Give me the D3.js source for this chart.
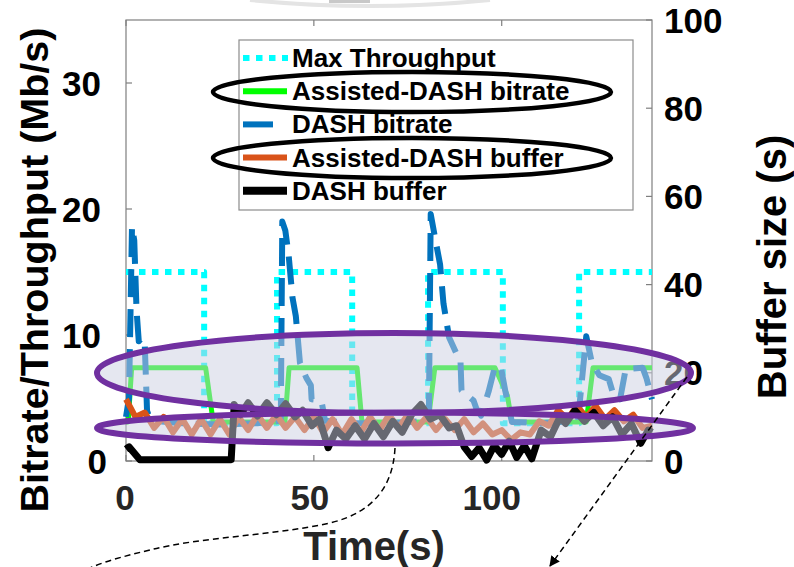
<!DOCTYPE html>
<html><head><meta charset="utf-8">
<script src="https://cdn.jsdelivr.net/npm/d3@7/dist/d3.min.js"></script>
<style>body{margin:0;background:#fff}svg{display:block}text{font-family:"Liberation Sans",Arial,sans-serif;font-weight:bold}</style>
</head><body>
<svg id="c" width="794" height="567"></svg>
<script>
// ---------- data ----------
const xTicks = [0, 50, 100];
const leftTicks = [0, 10, 20, 30];
const rightTicks = [0, 20, 40, 60, 80, 100];
const legendLabels = ["Max Throughput", "Assisted-DASH bitrate", "DASH bitrate", "Assisted-DASH buffer", "DASH buffer"];

// Max throughput (Mb/s), step after
const tpTime = [0, 20.8, 40.2, 60.2, 80.4, 100.3, 120.6, 140];
const tpVal  = [15, 3, 15, 3, 15, 3, 15, 15];

// Assisted-DASH bitrate (Mb/s)
const adbTime = [0, 0.6, 1.5, 21.2, 23.2, 42.3, 43.4, 61.5, 62.8, 80.4, 82.2, 98.2, 101.5, 102.7, 122.5, 124.3, 140];
const adbVal  = [3.1, 3.1, 7.4, 7.4, 3.1, 3.1, 7.4, 7.4, 3.1, 3.1, 7.4, 7.4, 5.2, 3.1, 3.1, 7.4, 7.4];

// DASH bitrate (Mb/s)
const dbTime = [0, 0.8, 1.6, 2.2, 2.8, 3.4, 4.2, 5.0, 5.6, 6.5, 15, 25, 35, 41.2, 41.6, 42.4, 43.3, 44.3, 45.2, 46.3, 48, 49.2, 49.4, 52, 53, 60, 70, 80.6, 81.1, 82.2, 83.6, 84.5, 86, 88, 89, 89.3, 92.5, 93.2, 94.5, 96.5, 98.2, 99.8, 101, 102.7, 110, 120.3, 122.5, 124, 126, 128.5, 130, 131.5, 133, 137.5, 138.5, 140];
const dbVal  = [3.5, 5, 18.6, 17.5, 12, 9.5, 9.8, 9.2, 4, 3.2, 3, 2.9, 3, 3.2, 19, 18.3, 16.3, 13, 11.5, 7.8, 6.6, 6, 4.9, 4.8, 3.2, 3, 3, 3.2, 19.6, 17.8, 15.6, 12.5, 9.8, 8.5, 8.2, 5.6, 4.8, 4.2, 3.6, 5.5, 7.5, 7.4, 5.5, 3.1, 3, 3.2, 9.9, 7.8, 6.8, 6.5, 5, 4.9, 7.3, 7.4, 6.6, 4.9];

// Assisted-DASH buffer (s)
const adBufTime = [0, 2.5, 5, 7.5, 10, 12.5, 15, 17.5, 20, 22.5, 25, 27.5, 30, 32.5, 35, 37.5, 40, 42.5, 45, 47.5,
  50, 52.5, 55, 57.5, 60, 62.5, 65, 67.5, 70, 72.5, 75, 77.5, 80, 82.5, 85, 87.5, 90, 92.5, 95, 97.5,
  100, 102.5, 105, 107.5, 110, 112.5, 115, 117.5, 120, 122.5, 125, 127.5, 130, 132.5, 135, 137.5, 140];
const adBuf = [14, 10, 11, 7.5, 10, 6.5, 9.5, 6, 9.5, 6, 9.5, 6, 10, 7, 10.5, 7.5, 10.5, 7.5, 10, 7,
  10, 6.5, 9.5, 6, 9.5, 6.5, 10, 7, 10.5, 7.5, 10.5, 7.5, 10, 7, 9.5, 7, 9.5, 6.5, 8.5, 6,
  7, 4.8, 6.5, 6, 9, 8, 11.5, 9.5, 12.5, 10, 12.5, 9.5, 11.5, 9, 10.5, 7.5, 8];

// DASH buffer (s)
const dBufTime = [0, 0.8, 3.7, 28, 28.8, 30.5, 32.5, 35, 37.5, 40, 42.5, 45, 47, 49.5, 51.5, 53.8, 56, 58.5, 61, 63.5,
  66, 68.5, 71, 73.5, 76, 78.5, 81, 83.5, 86, 88, 90, 92, 94, 96, 98, 100, 102, 104, 106, 108,
  110.5, 113, 115.5, 117, 119.5, 122, 124.5, 127, 129.5, 132, 134.5, 137, 139, 140];
const dBuf = [2.7, 3.2, 0.3, 0.3, 12.8, 10.5, 13.2, 10.2, 13.2, 10.5, 13, 10, 11.5, 8, 9.5, 3, 7, 5, 8, 5,
  8.5, 5.5, 9, 6.5, 10.5, 12.8, 9.5, 10.5, 7.5, 8, 3.2, 1, 3, 0.2, 3.5, 1.5, 4.5, 0.8, 3.5, 0.5,
  7, 5.5, 10, 8.5, 11.5, 9, 11, 8, 10, 6, 8.5, 4, 7, 6.5];

// ---------- layout ----------
const svg = d3.select("#c");
const L = 126, R = 652, T = 20, B = 461;
const x = d3.scaleLinear().domain([0, 140]).range([L, R]);
const yL = d3.scaleLinear().domain([0, 35]).range([B, T]);
const yR = d3.scaleLinear().domain([0, 100]).range([B, T]);
const axisCol = "#7f7f7f";

// faint shape at top
svg.append("path").attr("d", "M250,0 Q370,12 490,0").attr("fill", "none").attr("stroke", "#e4e4e4").attr("stroke-width", 4);
svg.append("rect").attr("x", 329).attr("y", 0).attr("width", 41).attr("height", 3).attr("fill", "#c8c8c8");

// box
svg.append("rect").attr("x", L).attr("y", T).attr("width", R - L).attr("height", B - T)
  .attr("fill", "none").attr("stroke", axisCol).attr("stroke-width", 1.2);

// ticks (inward)
const tk = svg.append("g").attr("stroke", axisCol).attr("stroke-width", 1.2);
xTicks.forEach(v => {
  tk.append("line").attr("x1", x(v)).attr("x2", x(v)).attr("y1", B).attr("y2", B - 6);
  tk.append("line").attr("x1", x(v)).attr("x2", x(v)).attr("y1", T).attr("y2", T + 6);
});
leftTicks.forEach(v => tk.append("line").attr("x1", L).attr("x2", L + 6).attr("y1", yL(v)).attr("y2", yL(v)));
rightTicks.forEach(v => tk.append("line").attr("x1", R).attr("x2", R - 6).attr("y1", yR(v)).attr("y2", yR(v)));

// tick labels
svg.append("g").selectAll("text").data(leftTicks).join("text")
  .attr("x", d => d === 0 ? 107 : 101).attr("y", d => yL(d)).attr("dy", "0.36em")
  .attr("text-anchor", "end").attr("font-size", 35).attr("fill", "#000").text(d => d);
svg.append("g").selectAll("text").data(rightTicks).join("text")
  .attr("x", 664).attr("y", d => yR(d)).attr("dy", "0.36em")
  .attr("text-anchor", "start").attr("font-size", 35).attr("fill", "#000").text(d => d);
svg.append("g").selectAll("text").data(xTicks).join("text")
  .attr("x", d => x(d) - (d === 0 ? 1 : d === 50 ? 4 : 10)).attr("y", 510)
  .attr("text-anchor", "middle").attr("font-size", 35).attr("fill", "#262626").text(d => d);

// axis titles
svg.append("text").attr("transform", "translate(48,270) rotate(-90)").attr("text-anchor", "middle")
  .attr("font-size", 39.5).attr("fill", "#000").text("Bitrate/Throughput (Mb/s)");
svg.append("text").attr("transform", "translate(786,267) rotate(-90)").attr("text-anchor", "middle")
  .attr("font-size", 40).attr("fill", "#000").text("Buffer size (s)");
svg.append("text").attr("x", 374).attr("y", 560).attr("text-anchor", "middle")
  .attr("font-size", 40).attr("fill", "#262626").text("Time(s)");

// ---------- series ----------
const plot = svg.append("g");
function draw(times, vals, ys, style, curve) {
  const pts = times.map((t, i) => [t, vals[i]]);
  const line = d3.line().x(d => x(d[0])).y(d => ys(d[1])).curve(curve || d3.curveLinear);
  const p = plot.append("path").datum(pts).attr("d", line).attr("fill", "none")
    .attr("stroke-linejoin", "round");
  Object.entries(style).forEach(([k, v]) => p.attr(k, v));
}

draw(tpTime, tpVal, yL, {stroke: "#00ffff", "stroke-width": 6, "stroke-dasharray": "6.5,6.5"}, d3.curveStepAfter);
draw(adbTime, adbVal, yL, {stroke: "#00ff00", "stroke-width": 5});
draw(dbTime, dbVal, yL, {stroke: "#0072bd", "stroke-width": 6, "stroke-dasharray": "28,12"});
draw(adBufTime, adBuf, yR, {stroke: "#d95319", "stroke-width": 6});
draw(dBufTime, dBuf, yR, {stroke: "#000000", "stroke-width": 7});

// ---------- purple highlight ellipses ----------
const purple = "#7030a0";
svg.append("ellipse").attr("cx", 394).attr("cy", 373).attr("rx", 297).attr("ry", 40)
  .attr("fill", "rgba(204,208,226,0.5)").attr("stroke", purple).attr("stroke-width", 6);
svg.append("ellipse").attr("cx", 395).attr("cy", 428).attr("rx", 298).attr("ry", 15.5)
  .attr("fill", "rgba(204,208,226,0.5)").attr("stroke", purple).attr("stroke-width", 6);

// ---------- legend ----------
const lg = svg.append("g");
lg.append("rect").attr("x", 239).attr("y", 40).attr("width", 394).attr("height", 170)
  .attr("fill", "#fff").attr("stroke", "#8c8c8c").attr("stroke-width", 1.2);
const lgStyles = [
  {stroke: "#00ffff", w: 6, dash: "6.5,6.5", x2: 288},
  {stroke: "#00ff00", w: 6, dash: null, x2: 287},
  {stroke: "#0072bd", w: 6, dash: null, x2: 273},
  {stroke: "#d95319", w: 6, dash: null, x2: 287},
  {stroke: "#000000", w: 8, dash: null, x2: 287}
];
legendLabels.forEach((lab, i) => {
  const cy = 58 + i * 33.2;
  const s = lgStyles[i];
  const ln = lg.append("line").attr("x1", 243).attr("x2", s.x2).attr("y1", cy).attr("y2", cy)
    .attr("stroke", s.stroke).attr("stroke-width", s.w);
  if (s.dash) ln.attr("stroke-dasharray", s.dash);
  lg.append("text").attr("x", 292).attr("y", cy + 9).attr("font-size", 26).attr("fill", "#000").text(lab);
});
// black ellipses around Assisted-DASH entries
[92, 158].forEach(cy => {
  svg.append("ellipse").attr("cx", 412).attr("cy", cy).attr("rx", 199).attr("ry", 20)
    .attr("fill", "none").attr("stroke", "#000").attr("stroke-width", 4.5);
});

// ---------- dashed arrows ----------
svg.append("path").attr("d", "M395,448 C393,485 375,512 330,523 C270,536 200,537 150,550 C120,557 100,563 88,569")
  .attr("fill", "none").attr("stroke", "#000").attr("stroke-width", 1.5).attr("stroke-dasharray", "6,4");
svg.append("defs").append("marker").attr("id", "ah").attr("viewBox", "0 0 10 10")
  .attr("refX", 9).attr("refY", 5).attr("markerWidth", 7).attr("markerHeight", 7).attr("orient", "auto")
  .append("path").attr("d", "M0,0 L10,5 L0,10 z").attr("fill", "#000");
svg.append("line").attr("x1", 687).attr("y1", 377).attr("x2", 550).attr("y2", 566)
  .attr("stroke", "#000").attr("stroke-width", 1.5).attr("stroke-dasharray", "6,4")
  .attr("marker-end", "url(#ah)");
</script>
</body></html>
